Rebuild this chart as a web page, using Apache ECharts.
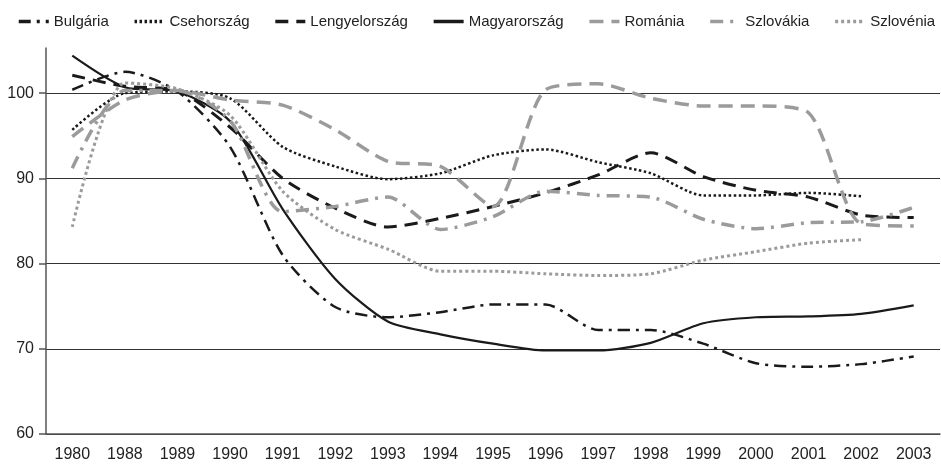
<!DOCTYPE html>
<html>
<head>
<meta charset="utf-8">
<script src="https://cdn.jsdelivr.net/npm/echarts@6/dist/echarts.min.js"></script>
<style>
html, body { margin: 0; padding: 0; background: #fff; }
#chart { width: 941px; height: 468px; }
</style>
</head>
<body>
<div id="chart"></div>
<script>
// evek (x tengely)
var years = ['1980', '1988', '1989', '1990', '1991', '1992', '1993', '1994', '1995', '1996', '1997', '1998', '1999', '2000', '2001', '2002', '2003'];
var yTicks = [60, 70, 80, 90, 100];

var bulgaria     = [100.4, 102.5, 100.2, 93.7, 81.0, 74.9, 73.7, 74.3, 75.2, 75.2, 72.2, 72.2, 70.6, 68.3, 67.9, 68.2, 69.1];
var csehorszag   = [95.7, 100.0, 100.2, 99.4, 93.7, 91.4, 89.9, 90.6, 92.7, 93.4, 91.9, 90.6, 88.0, 88.0, 88.3, 87.9, null];
var lengyel      = [102.1, 100.8, 100.3, 96.0, 90.0, 86.5, 84.3, 85.3, 86.7, 88.3, 90.4, 93.0, 90.2, 88.6, 87.8, 85.7, 85.4];
var magyar       = [104.4, 100.7, 100.2, 96.7, 86.4, 78.2, 73.2, 71.7, 70.6, 69.8, 69.8, 70.7, 73.0, 73.7, 73.8, 74.1, 75.1];
var romania      = [94.9, 99.2, 100.3, 99.2, 98.6, 95.7, 92.0, 91.4, 86.7, 100.4, 101.1, 99.4, 98.5, 98.5, 97.7, 84.7, 84.4];
var szlovakia    = [91.2, 100.3, 100.3, 96.8, 86.1, 86.7, 87.8, 84.0, 85.5, 88.5, 88.0, 87.8, 85.2, 84.1, 84.8, 84.9, 86.6];
var szlovenia    = [84.3, 101.2, 100.5, 97.4, 88.5, 84.0, 81.7, 79.1, 79.1, 78.8, 78.6, 78.8, 80.4, 81.4, 82.4, 82.8, null];

var black = '#1a1a1a';
var grey = '#9b9b9b';

function mkLine(name, data, color, width, dash) {
    return {
        name: name,
        type: 'line',
        data: data,
        symbol: 'none',
        smooth: 0.25,
        clip: false,
        lineStyle: { color: color, width: width, type: dash },
        itemStyle: { color: color }
    };
}

var chart = echarts.init(document.getElementById('chart'), null, { renderer: 'canvas' });

var option = {
    animation: false,
    backgroundColor: '#fff',
    textStyle: { fontFamily: 'Liberation Sans, Arial, sans-serif' },
    legend: {
        top: 9,
        left: 12,
        width: 929,
        itemWidth: 30,
        itemHeight: 12,
        itemGap: 24,
        itemStyle: { opacity: 0 },
        lineStyle: { width: 3.5 },
        textStyle: { fontSize: 15, color: '#222', fontFamily: 'Liberation Sans' },
        data: ['Bulgária', 'Csehország', 'Lengyelország', 'Magyarország', 'Románia', 'Szlovákia', 'Szlovénia']
    },
    grid: { left: 46, right: 1, top: 48, bottom: 34 },
    xAxis: {
        type: 'category',
        data: years,
        boundaryGap: true,
        axisLine: { lineStyle: { color: '#555', width: 1.5 } },
        axisTick: { length: 7, lineStyle: { color: '#555', width: 1.5 } },
        axisLabel: { fontSize: 16, color: '#222', margin: 13, interval: 0 }
    },
    yAxis: {
        type: 'value',
        min: 60,
        max: 105.3,
        interval: 10,
        axisLine: { show: true, lineStyle: { color: '#555', width: 1.5 } },
        axisTick: { show: true, length: 7, customValues: yTicks, lineStyle: { color: '#555', width: 1.5 } },
        axisLabel: { fontSize: 16, color: '#222', margin: 12, customValues: yTicks },
        splitLine: { show: true, lineStyle: { color: '#333', width: 1 } }
    },
    series: [
        mkLine('Bulgária', bulgaria, black, 2.5, [12, 6, 3, 6]),
        mkLine('Csehország', csehorszag, black, 2.5, [2.5, 2.5]),
        mkLine('Lengyelország', lengyel, black, 3, [13, 8]),
        mkLine('Magyarország', magyar, black, 2.2, 'solid'),
        mkLine('Románia', romania, grey, 3.5, [14, 8]),
        mkLine('Szlovákia', szlovakia, grey, 3.5, [13, 7, 3, 7]),
        mkLine('Szlovénia', szlovenia, grey, 3, [3, 3])
    ]
};

chart.setOption(option);
</script>
</body>
</html>
